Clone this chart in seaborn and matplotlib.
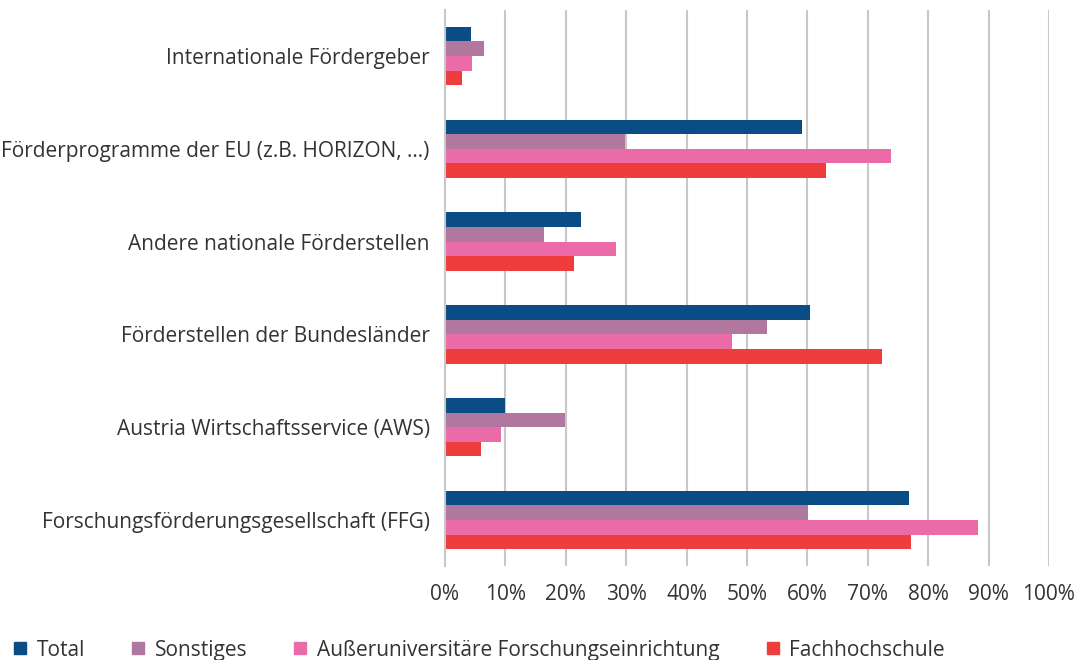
import numpy as np
import pandas as pd
import seaborn as sns
import matplotlib.pyplot as plt
from matplotlib.lines import Line2D
from matplotlib.ticker import FuncFormatter

categories = [
    "Internationale Fördergeber",
    "Förderprogramme der EU (z.B. HORIZON, ...)",
    "Andere nationale Förderstellen",
    "Förderstellen der Bundesländer",
    "Austria Wirtschaftsservice (AWS)",
    "Forschungsförderungsgesellschaft (FFG)",
]
series = ["Total", "Sonstiges", "Außeruniversitäre Forschungseinrichtung", "Fachhochschule"]
total = [4.3, 59.1, 22.5, 60.5, 9.9, 76.8]
sonstiges = [6.4, 29.8, 16.4, 53.3, 19.9, 60.1]
ausseruni = [4.5, 73.9, 28.3, 47.6, 9.3, 88.2]
fachhochschule = [2.8, 63.0, 21.3, 72.3, 6.0, 77.1]
colors = ["#0a4c85", "#b0779f", "#eb6ba8", "#ef3d3d"]

df = pd.DataFrame({"Kategorie": categories * 4,
                   "Gruppe": np.repeat(series, len(categories)),
                   "Wert": total + sonstiges + ausseruni + fachhochschule})

sns.set_style("white")
plt.rcParams["font.family"] = ["Open Sans", "DejaVu Sans"]
text_color = "#333333"
fs = 15

fig = plt.figure(figsize=(10.92, 6.6), dpi=100)
ax = fig.add_axes([0.4075, 0.1418, 0.5531, 0.8437])

sns.barplot(data=df, y="Kategorie", x="Wert", hue="Gruppe", order=categories,
            hue_order=series, palette=colors, width=0.63, saturation=1,
            orient="h", legend=False, linewidth=0, ax=ax)

ax.set_xlim(0, 100)
ax.set_xticks(np.arange(0, 101, 10))
ax.xaxis.set_major_formatter(FuncFormatter(lambda v, p: f"{v:.0f}%"))
ax.grid(axis="x", color="#c8c8c8", linewidth=1.5)
ax.set_axisbelow(True)
for s in ["top", "right", "bottom"]:
    ax.spines[s].set_visible(False)
ax.spines["left"].set_color("#c8c8c8")
ax.spines["left"].set_linewidth(1.5)
ax.set_xlabel("")
ax.set_ylabel("")
ax.tick_params(axis="both", length=0, labelsize=fs, colors=text_color)
ax.tick_params(axis="x", pad=13)
ax.tick_params(axis="y", pad=11)

handles = [Line2D([], [], marker="s", linestyle="", color=c, markersize=8) for c in colors]
fig.legend(handles, series, loc="lower left", bbox_to_anchor=(0.0, -0.02), ncol=4,
           frameon=False, fontsize=fs, labelcolor=text_color, handlelength=0.7,
           handletextpad=0.45, columnspacing=2.2, borderaxespad=0.2)

fig.savefig("out.png", dpi=100)
